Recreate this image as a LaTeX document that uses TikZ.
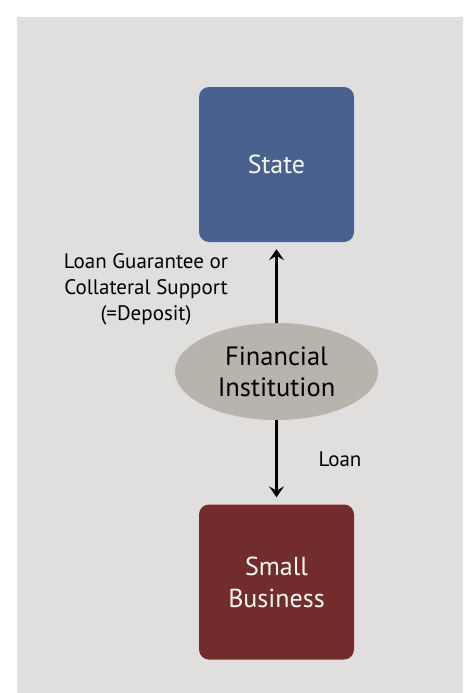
\documentclass[tikz,border=0pt]{standalone}
\usepackage{fontspec}
\setmainfont{PT Sans}
\usetikzlibrary{arrows.meta,shapes}

\definecolor{bggray}{RGB}{225,223,221}
\definecolor{stateblue}{RGB}{72,97,143}
\definecolor{bizred}{RGB}{114,44,44}
\definecolor{fingray}{RGB}{184,179,172}

\begin{document}
\begin{tikzpicture}[x=1pt,y=-1pt,inner sep=0pt,
  box/.style={rectangle,rounded corners=10pt,minimum width=155pt,minimum height=155pt,
    text=white!95!gray,align=center,font=\fontsize{26}{32}\selectfont},
  flow/.style={line width=3pt,-{Stealth[length=11pt,width=15pt,inset=4.5pt]},shorten >=7pt}]
\useasboundingbox (0,0) rectangle (471,693);
\fill[bggray] (17,17) rectangle (463,693);
% the three parties
\node (state) at (276.5,164.5) [box,fill=stateblue] {State};
\node (fi) at (276.5,371.5) [ellipse,fill=fingray,minimum width=203pt,minimum height=97pt,
  align=center,font=\fontsize{26.5}{31}\selectfont] {Financial\\Institution};
\node (biz) at (276.5,582) [box,fill=bizred] {Small\\Business};
% flows
\draw[flow] (fi) -- (state);
\draw[flow] (fi) -- (biz);
\node at (146,289) [align=center,font=\fontsize{21}{26}\selectfont] {Loan Guarantee or\\Collateral Support\\(=Deposit)};
\node at (340,459) [font=\fontsize{21}{26}\selectfont] {Loan};
\end{tikzpicture}
\end{document}
